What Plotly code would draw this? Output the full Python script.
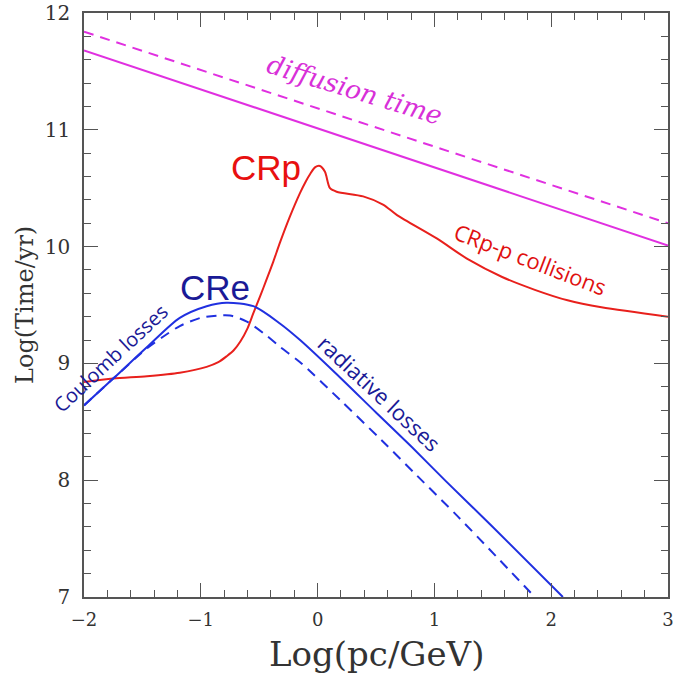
import plotly.graph_objects as go

# ---- data ----
diff_x = [-2.0, 3.0]
diff_solid_y = [11.68, 10.01]
diff_dashed_y = [11.84, 10.20]

crp_x = [-2.0, -1.75, -1.46, -1.18, -0.95, -0.85, -0.78, -0.72, -0.66, -0.60, -0.55, -0.49, -0.44, -0.38,
         -0.32, -0.24, -0.15, -0.10, -0.065, -0.02, 0.02, 0.063, 0.106, 0.163, 0.39, 0.56, 0.68, 1.02, 1.29,
         1.58, 1.86, 2.14, 2.43, 3.0]
crp_y = [8.84, 8.87, 8.89, 8.92, 8.97, 9.01, 9.06, 9.11, 9.19, 9.30, 9.43, 9.58, 9.71, 9.87,
         10.04, 10.25, 10.46, 10.56, 10.62, 10.68, 10.69, 10.64, 10.50, 10.47, 10.43, 10.36, 10.27, 10.07, 9.89,
         9.74, 9.63, 9.54, 9.48, 9.40]

cre_x = [-2.0, -1.75, -1.46, -1.18, -0.95, -0.78, -0.55, -0.32, -0.15, 0.15, 0.5, 0.8, 1.1, 1.5, 2.1]
cre_y = [8.64, 8.87, 9.14, 9.39, 9.49, 9.52, 9.49, 9.34, 9.20, 8.92, 8.58, 8.29, 7.99, 7.60, 7.0]

cre_d_x = [-2.0, -1.75, -1.46, -1.32, -1.18, -1.0, -0.85, -0.75, -0.61, -0.44, -0.32, -0.15, 0.2, 0.55,
           0.85, 1.2, 1.86]
cre_d_y = [8.64, 8.87, 9.13, 9.23, 9.32, 9.39, 9.41, 9.41, 9.36, 9.24, 9.14, 9.01, 8.68, 8.34,
           8.04, 7.69, 7.0]

x_ticks = [-2, -1, 0, 1, 2, 3]
x_labels = ["\u22122", "\u22121", "0", "1", "2", "3"]
y_ticks = [7, 8, 9, 10, 11, 12]

MAG = "#e030e0"
RED = "#e8201c"
BLUE = "#2030e0"
NAVY = "#1a1a96"

fig = go.Figure()
fig.add_trace(go.Scatter(x=diff_x, y=diff_dashed_y, mode="lines",
                         line=dict(color=MAG, width=2, dash="10px,7px")))
fig.add_trace(go.Scatter(x=diff_x, y=diff_solid_y, mode="lines",
                         line=dict(color=MAG, width=2)))
fig.add_trace(go.Scatter(x=crp_x, y=crp_y, mode="lines",
                         line=dict(color=RED, width=2, shape="spline", smoothing=0.8)))
fig.add_trace(go.Scatter(x=cre_d_x, y=cre_d_y, mode="lines",
                         line=dict(color=BLUE, width=2, dash="10px,7px", shape="spline", smoothing=0.8)))
fig.add_trace(go.Scatter(x=cre_x, y=cre_y, mode="lines",
                         line=dict(color=BLUE, width=2, shape="spline", smoothing=0.8)))

axis_common = dict(
    showline=True, linecolor="#555555", linewidth=1.5, mirror="ticks",
    ticks="inside", ticklen=14, tickwidth=1.3, tickcolor="#555555",
    showgrid=False, zeroline=False, automargin=False,
    minor=dict(dtick=0.2, ticks="inside", ticklen=7, tickwidth=1.1, tickcolor="#555555", showgrid=False),
)

fig.update_xaxes(range=[-2, 3], tickvals=x_ticks, ticktext=x_labels,
                 tickfont=dict(family="DejaVu Serif", size=18, color="#333333"),
                 ticklabelstandoff=6, **axis_common)
fig.update_yaxes(range=[7, 12], tickvals=y_ticks,
                 tickfont=dict(family="DejaVu Serif", size=20, color="#333333"),
                 ticklabelstandoff=8, **axis_common)

ann = []
ann.append(dict(text="Log(pc/GeV)", xref="paper", yref="paper", x=0.5, y=0, yanchor="middle",
                yshift=-57, showarrow=False, font=dict(family="DejaVu Serif", size=34, color="#333333")))
ann.append(dict(text="Log(Time/yr)", xref="paper", yref="paper", x=0, y=0.5, xanchor="center",
                xshift=-59, textangle=-90, showarrow=False,
                font=dict(family="DejaVu Serif", size=24, color="#333333")))
ann.append(dict(text="<i>diffusion time</i>", x=0.32, y=11.34, textangle=17, showarrow=False,
                font=dict(family="DejaVu Serif", size=26, color="#d830d8")))
ann.append(dict(text="CRp", x=-0.442, y=10.673, showarrow=False,
                font=dict(family="Liberation Sans", size=35, color="#e81010")))
ann.append(dict(text="CRe", x=-0.878, y=9.654, showarrow=False,
                font=dict(family="Liberation Sans", size=35, color=NAVY)))
ann.append(dict(text="Coulomb losses", x=-1.777, y=9.046, textangle=-43, showarrow=False,
                font=dict(family="Open Sans", size=20, color=NAVY)))
ann.append(dict(text="radiative losses", x=0.534, y=8.747, textangle=43, showarrow=False,
                font=dict(family="Open Sans", size=22, color=NAVY)))
ann.append(dict(text="CRp-p collisions", x=1.827, y=9.894, textangle=21, showarrow=False,
                font=dict(family="Open Sans", size=22, color="#e01010")))

fig.update_layout(
    width=675, height=675,
    margin=dict(l=84, r=7, t=13, b=78, autoexpand=False),
    paper_bgcolor="white", plot_bgcolor="white",
    showlegend=False,
    annotations=ann,
)

fig.write_html("out.html", config={"displayModeBar": False})

# remove the browser's default 8px body margin so the figure sits at the page origin
with open("out.html", "r", encoding="utf-8") as f:
    html = f.read()
html = html.replace("<body>", "<body style=\"margin:0;padding:0;overflow:hidden\">", 1)
with open("out.html", "w", encoding="utf-8") as f:
    f.write(html)
